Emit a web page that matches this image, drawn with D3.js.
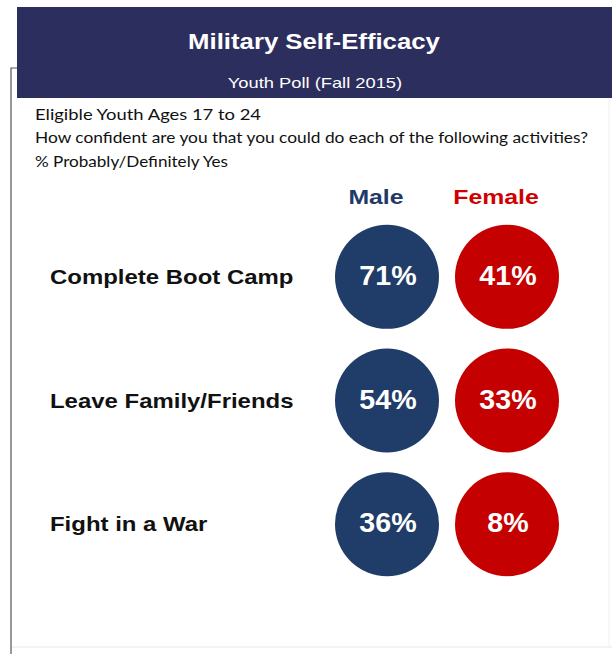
<!DOCTYPE html>
<html>
<head>
<meta charset="utf-8">
<script src="https://cdn.jsdelivr.net/npm/d3@7"></script>
<style>
  body { margin:0; background:#fff; }
</style>
</head>
<body>
<script>
// data ********************************************************************
var activities = ["Complete Boot Camp", "Leave Family/Friends", "Fight in a War"];
var groups = ["Male", "Female"];
var maleValues = [71, 54, 36];
var femaleValues = [41, 33, 8];
var introLines = [
  "Eligible Youth Ages 17 to 24",
  "How confident are you that you could do each of the following activities?",
  "% Probably/Definitely Yes"
];

// settings ****************************************************************
var W = 613, H = 654;
var groupColor = { Male: "#203c68", Female: "#c40000" };
var headerColor = { Male: "#1f3a66", Female: "#d00000" };

var svg = d3.select("body").append("svg")
    .attr("width", W).attr("height", H)
    .style("font-family", "'Liberation Sans', Arial, sans-serif");

// widen a text selection horizontally by k (reference type runs wide)
function stretch(sel, k) {
  sel.each(function () {
    var w = this.getComputedTextLength();
    d3.select(this).attr("textLength", w * k).attr("lengthAdjust", "spacingAndGlyphs");
  });
  return sel;
}

// frame
svg.append("path")
  .attr("d", "M11,654 L11,68 L612,68")
  .attr("fill", "none").attr("stroke", "#555").attr("stroke-width", 1.2);
svg.append("line")
  .attr("x1", 12).attr("x2", 612).attr("y1", 647).attr("y2", 647)
  .attr("stroke", "#e6e6e6").attr("stroke-width", 1);
svg.append("line")
  .attr("x1", 609).attr("x2", 609).attr("y1", 98).attr("y2", 647)
  .attr("stroke", "#f0f0f0").attr("stroke-width", 1);

// header band
svg.append("rect")
  .attr("x", 17).attr("y", 7).attr("width", 595).attr("height", 91)
  .attr("fill", "#2c2e5d");
stretch(svg.append("text")
  .attr("x", 314).attr("y", 49)
  .attr("text-anchor", "middle")
  .attr("fill", "#fff").attr("font-weight", "bold").attr("font-size", 22)
  .text("Military Self-Efficacy"), 1.17);
stretch(svg.append("text")
  .attr("x", 315).attr("y", 88)
  .attr("text-anchor", "middle")
  .attr("fill", "#fff").attr("font-size", 15)
  .text("Youth Poll (Fall 2015)"), 1.22);

// intro text
var introW = [226, 553, 193];
svg.selectAll("text.intro").data(introLines).join("text")
  .attr("class", "intro")
  .attr("x", 35)
  .attr("y", (d, i) => 120 + i * 23.3)
  .attr("fill", "#111")
  .attr("font-family", "Lato, 'Open Sans', sans-serif")
  .attr("font-size", 15)
  .attr("textLength", (d, i) => introW[i])
  .attr("lengthAdjust", "spacingAndGlyphs")
  .text(d => d);

// scales
var y = d3.scaleBand().domain(activities).range([215, 586]);
var x = d3.scaleBand().domain(groups).range([327, 567]);
var r = 52;

// column headers
stretch(svg.selectAll("text.grp").data(groups).join("text")
  .attr("class", "grp")
  .attr("x", d => x(d) + x.bandwidth() / 2 - 11)
  .attr("y", 204)
  .attr("text-anchor", "middle")
  .attr("font-weight", "bold").attr("font-size", 20)
  .attr("fill", d => headerColor[d])
  .text(d => d), 1.24);

// rows
var rows = activities.map((a, i) => ({ name: a, Male: maleValues[i], Female: femaleValues[i] }));

var row = svg.selectAll("g.row").data(rows).join("g")
  .attr("class", "row")
  .attr("transform", d => "translate(0," + (y(d.name) + y.bandwidth() / 2) + ")");

stretch(row.append("text")
  .attr("x", 50).attr("y", 7)
  .attr("font-weight", "bold").attr("font-size", 21)
  .attr("fill", "#111")
  .text(d => d.name), 1.14);

groups.forEach(g => {
  row.append("circle")
    .attr("cx", x(g) + x.bandwidth() / 2)
    .attr("cy", 0)
    .attr("r", r)
    .attr("fill", groupColor[g]);
  stretch(row.append("text")
    .attr("x", x(g) + x.bandwidth() / 2 + 1)
    .attr("y", 8)
    .attr("text-anchor", "middle")
    .attr("font-weight", "bold").attr("font-size", 27)
    .attr("fill", "#fff")
    .text(d => d[g] + "%"), 1.06);
});
</script>
</body>
</html>
